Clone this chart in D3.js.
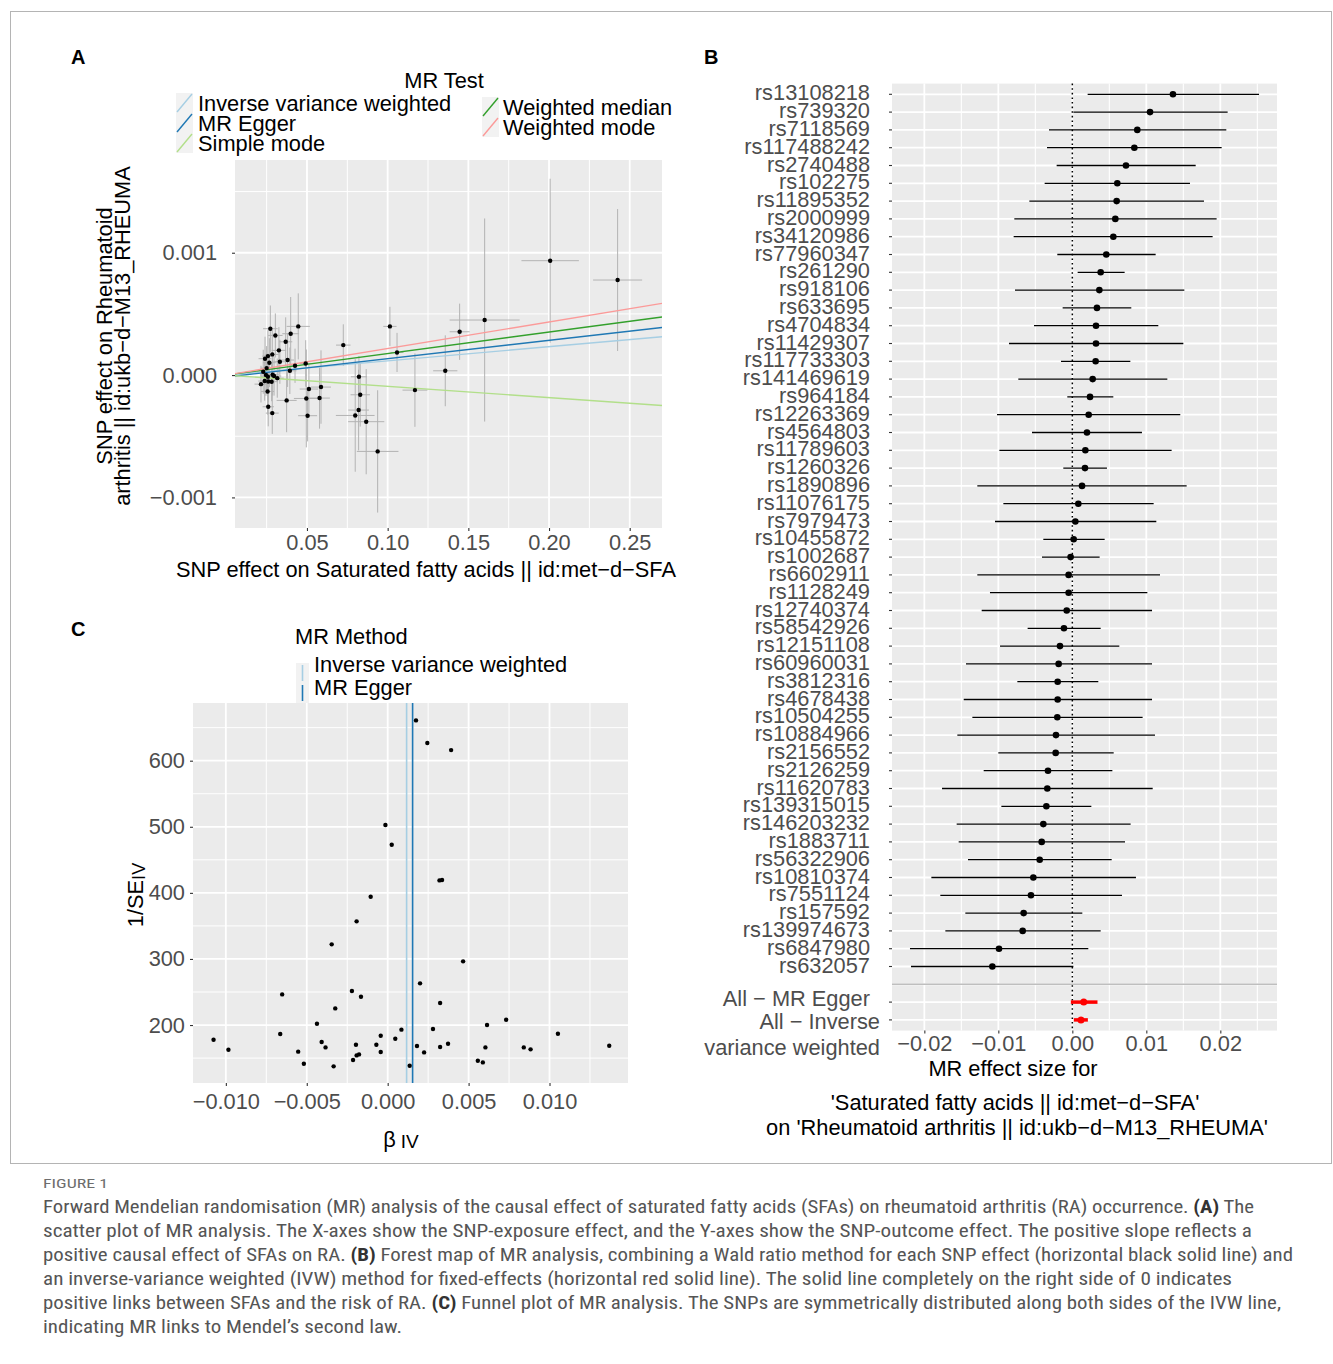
<!DOCTYPE html>
<html lang="en">
<head>
<meta charset="UTF-8">
<script src="https://d3js.org/d3.v7.min.js"></script>
<title>MR figure</title>
<style>
  body { margin: 0; background: #fff; }
</style>
</head>
<body>
<script>
// ---------- data ----------
// panel A: SNP effects on exposure (x) and outcome (y), with standard-error bars
const snpX   = [0.2007,0.2425,0.1601,0.1446,0.1357,0.1169,0.1014,0.1058,0.0725,0.0938,0.0867,0.0799,0.0820,0.0830,0.0822,0.0587,0.0578,0.0512,0.0504,0.0496,0.0492,0.0446,0.0399,0.0368,0.0394,0.0380,0.0426,0.0374,0.0326,0.0332,0.0304,0.0273,0.0285,0.0240,0.0258,0.0267,0.0250,0.0287,0.0316,0.0258,0.0215,0.0238,0.0260,0.0281,0.0256,0.0260,0.0285,0.0246,0.0229,0.0296];
const snpY   = [0.000935,0.000777,0.00045,0.000354,0.000035,-0.000123,0.000398,0.000185,0.000245,-0.000624,-0.000381,-0.00033,-0.000286,-0.000161,-0.000014,-0.000098,-0.000188,-0.000114,-0.000332,-0.000191,0.000095,0.000398,0.000338,0.000272,0.000035,0.000123,0.000076,-0.000207,0.000202,0.000109,0.000324,0.000379,0.000169,0.000134,0.000155,0.000101,0.000057,0.000003,-0.000025,-0.000014,-0.000074,-0.000049,-0.000052,-0.000054,-0.000134,-0.000259,-0.000311,0.0,0.000027,-0.000008];
const snpXse = [0.0178,0.0152,0.0217,0.0062,0.0075,0.0077,0.0041,0.0040,0.0045,0.0129,0.0112,0.0120,0.0064,0.0060,0.0050,0.0062,0.0064,0.0057,0.0059,0.0077,0.0036,0.0072,0.0052,0.0041,0.0041,0.0040,0.0030,0.0062,0.0045,0.0040,0.0045,0.0045,0.0040,0.0040,0.0035,0.0040,0.0035,0.0040,0.0040,0.0045,0.0040,0.0040,0.0035,0.0040,0.0040,0.0035,0.0040,0.0035,0.0040,0.0045];
const snpYse = [0.00067,0.00058,0.00083,0.00023,0.00029,0.0003,0.00016,0.00016,0.00017,0.0005,0.00043,0.00046,0.00033,0.00026,0.00017,0.0003,0.00025,0.0002,0.00021,0.0004,0.00019,0.00027,0.0003,0.0002,0.00019,0.00022,0.00014,0.00026,0.00019,0.00018,0.00018,0.00019,0.0002,0.00018,0.00021,0.0002,0.00018,0.00017,0.00016,0.00019,0.00015,0.00016,0.00017,0.00016,0.00019,0.00016,0.00017,0.00017,0.00018,0.00016];

// MR methods (regression lines of panel A)
const methodNames     = ['Inverse variance weighted','MR Egger','Simple mode','Weighted median','Weighted mode'];
const methodColors    = ['#a6cee3','#1f78b4','#b2df8a','#33a02c','#fb9a99'];
const methodSlope     = [0.00116, 0.0015, -0.00092, 0.00176, 0.00217];
const methodIntercept = [0, -0.000016, 0, 0, 0];

// panel B: single-SNP Wald ratios with 95% CI
const snpIds = ['rs13108218','rs739320','rs7118569','rs117488242','rs2740488','rs102275','rs11895352','rs2000999','rs34120986','rs77960347','rs261290','rs918106','rs633695','rs4704834','rs11429307','rs117733303','rs141469619','rs964184','rs12263369','rs4564803','rs11789603','rs1260326','rs1890896','rs11076175','rs7979473','rs10455872','rs1002687','rs6602911','rs1128249','rs12740374','rs58542926','rs12151108','rs60960031','rs3812316','rs4678438','rs10504255','rs10884966','rs2156552','rs2126259','rs11620783','rs139315015','rs146203232','rs1883711','rs56322906','rs10810374','rs7551124','rs157592','rs139974673','rs6847980','rs632057'];
const waldB  = [0.01360,0.01050,0.00878,0.00838,0.00725,0.00608,0.00599,0.00581,0.00554,0.00459,0.00383,0.00365,0.00333,0.00320,0.00320,0.00315,0.00275,0.00239,0.00221,0.00198,0.00176,0.00171,0.00131,0.00081,0.00041,0.00018,-0.00023,-0.00050,-0.00050,-0.00076,-0.00113,-0.00167,-0.00185,-0.00198,-0.00198,-0.00203,-0.00221,-0.00225,-0.00329,-0.00338,-0.00351,-0.00392,-0.00414,-0.00441,-0.00527,-0.00559,-0.00658,-0.00671,-0.00991,-0.01081];
const waldLo = [0.00207,0.00014,-0.00315,-0.00342,-0.00212,-0.00374,-0.00581,-0.00784,-0.00793,-0.00203,0.00072,-0.00775,-0.00131,-0.00518,-0.00856,-0.00153,-0.00730,-0.00068,-0.01018,-0.00545,-0.00986,-0.00122,-0.01284,-0.00932,-0.01045,-0.00392,-0.00410,-0.01284,-0.01113,-0.01225,-0.00604,-0.00977,-0.01437,-0.00743,-0.01468,-0.01351,-0.01554,-0.01000,-0.01198,-0.01761,-0.00959,-0.01563,-0.01536,-0.01410,-0.01905,-0.01784,-0.01446,-0.01716,-0.02194,-0.02180];
const waldHi = [0.02523,0.02099,0.02081,0.02018,0.01667,0.01590,0.01779,0.01950,0.01896,0.01126,0.00707,0.01514,0.00797,0.01162,0.01500,0.00784,0.01284,0.00554,0.01459,0.00941,0.01342,0.00468,0.01545,0.01099,0.01135,0.00437,0.00369,0.01185,0.01014,0.01077,0.00383,0.00635,0.01077,0.00351,0.01077,0.00950,0.01117,0.00559,0.00541,0.01086,0.00257,0.00788,0.00712,0.00532,0.00860,0.00671,0.00135,0.00383,0.00216,0.00014];
const sumLabels = ['All \u2212 MR Egger', 'All \u2212 Inverse variance weighted'];
const sumB  = [0.00154, 0.00117];
const sumLo = [-0.0002, 0.0002];
const sumHi = [0.0034, 0.0021];

// panel C: funnel plot
const funnelB = [0.00175,0.00245,0.00392,-0.00014,0.00025,0.0032,0.00336,-0.00105,-0.00192,-0.00346,0.00466,0.002,-0.00652,-0.00221,-0.00165,0.00324,-0.00324,-0.00437,0.00614,0.00732,0.01052,0.01369,-0.00664,-0.01076,-0.00984,-0.00553,-0.00518,-0.00408,-0.00384,-0.00334,-0.00214,-0.00196,-0.00192,-0.00177,-0.0007,-0.00043,-0.00043,0.00047,0.00085,0.00136,0.00181,0.00225,0.0028,0.00324,0.00373,0.00604,0.00557,0.00588,0.00841,0.00883];
const funnelInvSE = [661,626.7,616,502.6,472.9,418.9,419.4,394.2,356.9,322.1,296.4,263.1,246.4,251.5,242.9,233.3,225.2,202,200,208,186.9,168.7,186.4,177.8,162.7,159.7,141.5,174.3,166.2,137.5,147,170.2,154.1,155.6,170.2,183.9,159.1,179.3,193,138.5,168.2,158.6,194,166.7,171.8,166.2,146,143.5,166.2,163.2];
const funnelMethods = ['Inverse variance weighted', 'MR Egger'];
const funnelMethodB = [0.00117, 0.00154];

// tick labels
const ticksAy = [-0.001, 0, 0.001];
const ticksAx = [0.05, 0.10, 0.15, 0.20, 0.25];
const ticksBx = [-0.02, -0.01, 0, 0.01, 0.02];
const ticksCx = [-0.01, -0.005, 0, 0.005, 0.01];
const ticksCy = [200, 300, 400, 500, 600];

// caption
const captionLines = [
  [['Forward Mendelian randomisation (MR) analysis of the causal effect of saturated fatty acids (SFAs) on rheumatoid arthritis (RA) occurrence. ', 0], ['(A)', 1], [' The', 0]],
  [['scatter plot of MR analysis. The X-axes show the SNP-exposure effect, and the Y-axes show the SNP-outcome effect. The positive slope reflects a', 0]],
  [['positive causal effect of SFAs on RA. ', 0], ['(B)', 1], [' Forest map of MR analysis, combining a Wald ratio method for each SNP effect (horizontal black solid line) and', 0]],
  [['an inverse-variance weighted (IVW) method for fixed-effects (horizontal red solid line). The solid line completely on the right side of 0 indicates', 0]],
  [['positive links between SFAs and the risk of RA. ', 0], ['(C)', 1], [' Funnel plot of MR analysis. The SNPs are symmetrically distributed along both sides of the IVW line,', 0]],
  [['indicating MR links to Mendel\u2019s second law.', 0]]
];
const captionWidths = [1211, 1209, 1250, 1189, 1238, 359];

// ---------- drawing ----------
const FONT = '"Liberation Sans", Arial, Helvetica, sans-serif';
const FS = 21.8;
const svg = d3.select('body').append('svg')
  .attr('width', 1333).attr('height', 1364)
  .style('font-family', FONT);

// frame around the figure
svg.append('rect').attr('x', 10.5).attr('y', 11.5).attr('width', 1321).attr('height', 1152)
  .attr('fill', 'none').attr('stroke', '#b4b4b4').attr('stroke-width', 1);

function minors(major, dom) {
  const s = major[1] - major[0];
  const out = [];
  for (let v = major[0] - s / 2; v <= dom[1] + 1e-12; v += s) if (v >= dom[0]) out.push(v);
  return out;
}

function txt(g, x, y, s, opts = {}) {
  return g.append('text').attr('x', x).attr('y', y).text(s)
    .attr('font-size', opts.size || FS)
    .attr('fill', opts.fill || '#000')
    .attr('text-anchor', opts.anchor || 'start')
    .attr('font-weight', opts.weight || 'normal');
}

function styleAxis(sel) {
  sel.attr('font-size', null).attr('font-family', null);
  sel.select('.domain').remove();
  sel.selectAll('.tick line').attr('stroke', '#333').attr('stroke-width', 1.1);
  sel.selectAll('.tick text').attr('fill', '#4d4d4d').style('font-size', FS + 'px').style('font-family', FONT);
}

function grid(g, x, y, xMaj, yMaj, box) {
  const xMin = minors(xMaj, x.domain()), yMin = minors(yMaj, y.domain());
  g.selectAll(null).data(yMin).enter().append('line')
    .attr('x1', box[0]).attr('x2', box[2]).attr('y1', d => y(d)).attr('y2', d => y(d))
    .attr('stroke', '#fff').attr('stroke-width', 1);
  g.selectAll(null).data(xMin).enter().append('line')
    .attr('y1', box[1]).attr('y2', box[3]).attr('x1', d => x(d)).attr('x2', d => x(d))
    .attr('stroke', '#fff').attr('stroke-width', 1);
  g.selectAll(null).data(yMaj).enter().append('line')
    .attr('x1', box[0]).attr('x2', box[2]).attr('y1', d => y(d)).attr('y2', d => y(d))
    .attr('stroke', '#fff').attr('stroke-width', 1.8);
  g.selectAll(null).data(xMaj).enter().append('line')
    .attr('y1', box[1]).attr('y2', box[3]).attr('x1', d => x(d)).attr('x2', d => x(d))
    .attr('stroke', '#fff').attr('stroke-width', 1.8);
}

// ===== Panel A: scatter =====
const A = { x0: 235, y0: 160, x1: 662, y1: 528 };
const xA = d3.scaleLinear().domain([0.0054, 0.27]).range([A.x0, A.x1]);
const yA = d3.scaleLinear().domain([-0.00125, 0.001758]).range([A.y1, A.y0]);
const gA = svg.append('g');
gA.append('rect').attr('x', A.x0).attr('y', A.y0).attr('width', A.x1 - A.x0).attr('height', A.y1 - A.y0).attr('fill', '#ebebeb');
grid(gA, xA, yA, ticksAx, ticksAy, [A.x0, A.y0, A.x1, A.y1]);

svg.append('clipPath').attr('id', 'clipA').append('rect')
  .attr('x', A.x0).attr('y', A.y0).attr('width', A.x1 - A.x0).attr('height', A.y1 - A.y0);
const gAc = gA.append('g').attr('clip-path', 'url(#clipA)');

const idx = d3.range(snpX.length);
gAc.selectAll(null).data(idx).enter().append('line')
  .attr('x1', i => xA(snpX[i])).attr('x2', i => xA(snpX[i]))
  .attr('y1', i => yA(snpY[i] - snpYse[i])).attr('y2', i => yA(snpY[i] + snpYse[i]))
  .attr('stroke', '#b3b3b3').attr('stroke-width', 1);
gAc.selectAll(null).data(idx).enter().append('line')
  .attr('y1', i => yA(snpY[i])).attr('y2', i => yA(snpY[i]))
  .attr('x1', i => xA(snpX[i] - snpXse[i])).attr('x2', i => xA(snpX[i] + snpXse[i]))
  .attr('stroke', '#b3b3b3').attr('stroke-width', 1);

const xdA = xA.domain();
gAc.selectAll(null).data(d3.range(methodNames.length)).enter().append('line')
  .attr('x1', xA(xdA[0])).attr('x2', xA(xdA[1]))
  .attr('y1', m => yA(methodIntercept[m] + methodSlope[m] * xdA[0]))
  .attr('y2', m => yA(methodIntercept[m] + methodSlope[m] * xdA[1]))
  .attr('stroke', m => methodColors[m]).attr('stroke-width', 1.4);

gAc.selectAll(null).data(idx).enter().append('circle')
  .attr('cx', i => xA(snpX[i])).attr('cy', i => yA(snpY[i])).attr('r', 2.2).attr('fill', '#000');

svg.append('g').attr('transform', `translate(${A.x0},0)`)
  .call(d3.axisLeft(yA).tickValues(ticksAy).tickFormat(d3.format('.3f')).tickSize(3).tickPadding(15))
  .call(styleAxis);
svg.append('g').attr('transform', `translate(0,${A.y1})`)
  .call(d3.axisBottom(xA).tickValues(ticksAx).tickFormat(d3.format('.2f')).tickSize(3).tickPadding(4))
  .call(styleAxis);

txt(svg, 426, 576.5, 'SNP effect on Saturated fatty acids || id:met\u2212d\u2212SFA', { anchor: 'middle' });
[['SNP effect on Rheumatoid', 104], ['arthritis || id:ukb\u2212d\u2212M13_RHEUMA', 122]].forEach(([s, cx]) => {
  svg.append('text').attr('transform', `translate(${cx},336) rotate(-90)`)
    .attr('text-anchor', 'middle').attr('dy', '0.35em').attr('font-size', FS).text(s);
});
txt(svg, 71, 64, 'A', { weight: 'bold', size: 20 });

// legend A
txt(svg, 444, 87.5, 'MR Test', { anchor: 'middle' });
const legA = [[176, 103, 198], [176, 123, 198], [176, 143, 198], [482, 107, 503], [482, 127, 503]];
legA.forEach(([kx, cy, lx], m) => {
  svg.append('rect').attr('x', kx).attr('y', cy - 10).attr('width', 17).attr('height', 20).attr('fill', '#f2f2f2');
  svg.append('line').attr('x1', kx + 1).attr('y1', cy + 9).attr('x2', kx + 16).attr('y2', cy - 9)
    .attr('stroke', methodColors[m]).attr('stroke-width', 1.4);
  txt(svg, lx, cy + 7.5, methodNames[m]);
});

// ===== Panel B: forest =====
const B = { x0: 892, y0: 83.6, x1: 1277, y1: 1030.6 };
const levels = snpIds.concat([''], sumLabels);
const xB = d3.scaleLinear().domain([-0.02437, 0.02766]).range([B.x0, B.x1]);
const yB = d3.scalePoint().domain(levels).range([94.3, 1019.9]);
const gB = svg.append('g');
gB.append('rect').attr('x', B.x0).attr('y', B.y0).attr('width', B.x1 - B.x0).attr('height', B.y1 - B.y0).attr('fill', '#ebebeb');
gB.selectAll(null).data(minors(ticksBx, xB.domain())).enter().append('line')
  .attr('y1', B.y0).attr('y2', B.y1).attr('x1', d => xB(d)).attr('x2', d => xB(d))
  .attr('stroke', '#fff').attr('stroke-width', 1.1);
gB.selectAll(null).data(ticksBx).enter().append('line')
  .attr('y1', B.y0).attr('y2', B.y1).attr('x1', d => xB(d)).attr('x2', d => xB(d))
  .attr('stroke', '#fff').attr('stroke-width', 1.8);
gB.selectAll(null).data(levels).enter().append('line')
  .attr('x1', B.x0).attr('x2', B.x1).attr('y1', d => yB(d)).attr('y2', d => yB(d))
  .attr('stroke', '#fff').attr('stroke-width', 1.8);
gB.append('line').attr('x1', B.x0).attr('x2', B.x1).attr('y1', yB('')).attr('y2', yB(''))
  .attr('stroke', '#bebebe').attr('stroke-width', 1.6);
gB.append('line').attr('x1', xB(0)).attr('x2', xB(0)).attr('y1', B.y0).attr('y2', B.y1)
  .attr('stroke', '#000').attr('stroke-width', 1.5).attr('stroke-dasharray', '1.6,3');

const sIdx = d3.range(snpIds.length);
gB.selectAll(null).data(sIdx).enter().append('line')
  .attr('x1', i => xB(waldLo[i])).attr('x2', i => xB(waldHi[i]))
  .attr('y1', i => yB(snpIds[i])).attr('y2', i => yB(snpIds[i]))
  .attr('stroke', '#000').attr('stroke-width', 1.3);
gB.selectAll(null).data(sIdx).enter().append('circle')
  .attr('cx', i => xB(waldB[i])).attr('cy', i => yB(snpIds[i])).attr('r', 3.3).attr('fill', '#000');
const mIdx = d3.range(sumLabels.length);
gB.selectAll(null).data(mIdx).enter().append('line')
  .attr('x1', i => xB(sumLo[i])).attr('x2', i => xB(sumHi[i]))
  .attr('y1', i => yB(sumLabels[i])).attr('y2', i => yB(sumLabels[i]))
  .attr('stroke', '#ff0000').attr('stroke-width', 3.5);
gB.selectAll(null).data(mIdx).enter().append('circle')
  .attr('cx', i => xB(sumB[i])).attr('cy', i => yB(sumLabels[i])).attr('r', 3.5).attr('fill', '#ff0000');

// y labels (ticks + text)
gB.selectAll(null).data(levels.filter(d => d !== '')).enter().append('line')
  .attr('x1', B.x0 - 3).attr('x2', B.x0).attr('y1', d => yB(d)).attr('y2', d => yB(d))
  .attr('stroke', '#333').attr('stroke-width', 1.1);
snpIds.forEach(s => txt(gB, 870, yB(s) + 6, s, { anchor: 'end', fill: '#4d4d4d' }));
txt(gB, 870, yB(sumLabels[0]) + 4, sumLabels[0], { anchor: 'end', fill: '#4d4d4d' });
txt(gB, 880, yB(sumLabels[1]) + 9, 'All \u2212 Inverse', { anchor: 'end', fill: '#4d4d4d' });
txt(gB, 880, yB(sumLabels[1]) + 35, 'variance weighted', { anchor: 'end', fill: '#4d4d4d' });

svg.append('g').attr('transform', `translate(0,${B.y1})`)
  .call(d3.axisBottom(xB).tickValues(ticksBx).tickFormat(d3.format('.2f')).tickSize(3).tickPadding(2))
  .call(styleAxis);
txt(svg, 1013, 1076, 'MR effect size for', { anchor: 'middle' });
txt(svg, 1015, 1110, '\'Saturated fatty acids || id:met\u2212d\u2212SFA\'', { anchor: 'middle' });
txt(svg, 1017, 1135, 'on \'Rheumatoid arthritis || id:ukb\u2212d\u2212M13_RHEUMA\'', { anchor: 'middle' });
txt(svg, 704, 64, 'B', { weight: 'bold', size: 20 });

// ===== Panel C: funnel =====
const C = { x0: 193, y0: 703, x1: 628, y1: 1083 };
const xC = d3.scaleLinear().domain([-0.01203, 0.01485]).range([C.x0, C.x1]);
const yC = d3.scaleLinear().domain([112.3, 687.3]).range([C.y1, C.y0]);
const gC = svg.append('g');
gC.append('rect').attr('x', C.x0).attr('y', C.y0).attr('width', C.x1 - C.x0).attr('height', C.y1 - C.y0).attr('fill', '#ebebeb');
grid(gC, xC, yC, ticksCx, ticksCy, [C.x0, C.y0, C.x1, C.y1]);
gC.selectAll(null).data(d3.range(funnelMethods.length)).enter().append('line')
  .attr('x1', m => xC(funnelMethodB[m])).attr('x2', m => xC(funnelMethodB[m]))
  .attr('y1', C.y0).attr('y2', C.y1)
  .attr('stroke', m => methodColors[m]).attr('stroke-width', 1.6);
gC.selectAll(null).data(d3.range(funnelB.length)).enter().append('circle')
  .attr('cx', i => xC(funnelB[i])).attr('cy', i => yC(funnelInvSE[i])).attr('r', 2.2).attr('fill', '#000');

svg.append('g').attr('transform', `translate(${C.x0},0)`)
  .call(d3.axisLeft(yC).tickValues(ticksCy).tickFormat(d3.format('d')).tickSize(3).tickPadding(5))
  .call(styleAxis);
svg.append('g').attr('transform', `translate(0,${C.y1})`)
  .call(d3.axisBottom(xC).tickValues(ticksCx).tickFormat(d3.format('.3f')).tickSize(3).tickPadding(8))
  .call(styleAxis);

const yt = svg.append('text').attr('transform', 'translate(135,895) rotate(-90)')
  .attr('text-anchor', 'middle').attr('dy', '0.35em').attr('font-size', FS);
yt.append('tspan').text('1/SE');
yt.append('tspan').attr('font-size', 18).attr('dy', 2).text('IV');
const xt = svg.append('text').attr('x', 401).attr('y', 1147).attr('text-anchor', 'middle').attr('font-size', FS);
xt.append('tspan').text('\u03b2');
xt.append('tspan').attr('font-size', 19).attr('dy', 1).attr('dx', 5).text('IV');
txt(svg, 71, 636, 'C', { weight: 'bold', size: 20 });

// legend C
txt(svg, 295, 644, 'MR Method');
[[663, 672], [683, 695]].forEach(([ky, by], m) => {
  svg.append('rect').attr('x', 296).attr('y', ky).attr('width', 13).attr('height', 20).attr('fill', '#f2f2f2');
  svg.append('line').attr('x1', 302.5).attr('x2', 302.5).attr('y1', ky + 2).attr('y2', ky + 18)
    .attr('stroke', methodColors[m]).attr('stroke-width', 1.6);
  txt(svg, 314, by, funnelMethods[m]);
});

// ===== caption =====
const CAPFONT = '"Liberation Sans Narrow", "Roboto Condensed", "DejaVu Sans Condensed", "Liberation Sans", sans-serif';
svg.append('text').attr('x', 43).attr('y', 1188).attr('font-size', 13).attr('fill', '#6d6d6d')
  .style('font-family', CAPFONT).attr('textLength', 65).attr('lengthAdjust', 'spacingAndGlyphs').text('FIGURE 1');
captionLines.forEach((parts, li) => {
  const t = svg.append('text').attr('x', 43).attr('y', 1213 + li * 24)
    .attr('font-size', 17.5).attr('fill', '#555')
    .style('font-family', CAPFONT)
    .attr('textLength', captionWidths[li]).attr('lengthAdjust', 'spacingAndGlyphs');
  parts.forEach(([s, b]) => {
    t.append('tspan').text(s).attr('font-weight', b ? 'bold' : 'normal').attr('fill', b ? '#333' : '#555');
  });
});
</script>
</body>
</html>
